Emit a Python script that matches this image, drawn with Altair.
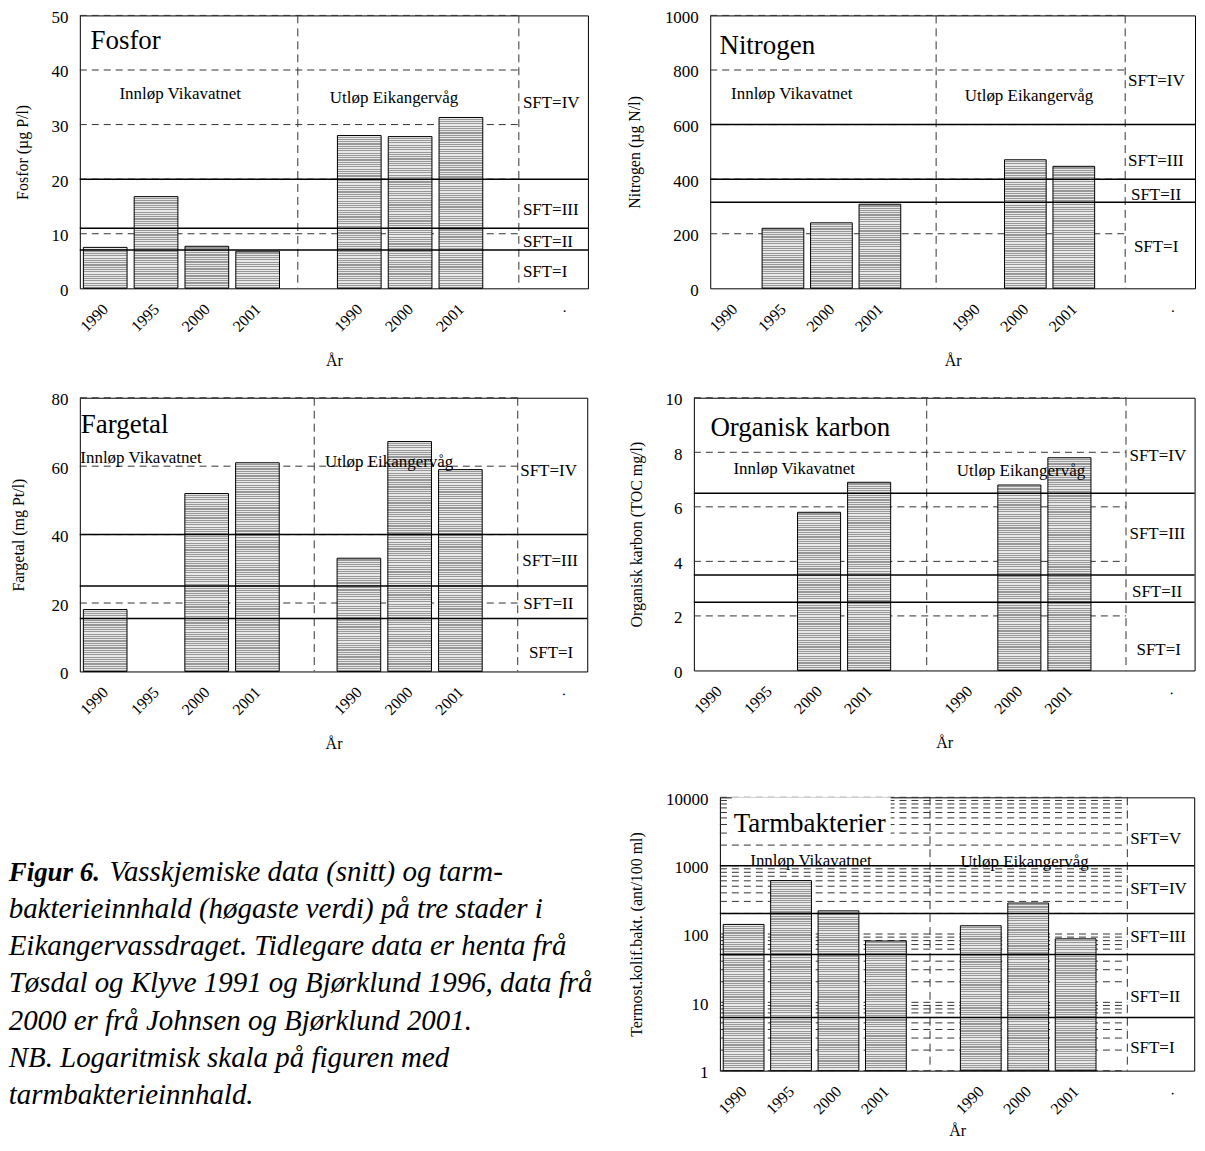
import math
import altair as alt
import pandas as pd

FONT = "Liberation Serif"

# ---------------- data ----------------
tick_labels = ["1990", "1995", "2000", "2001", "", "1990", "2000", "2001", "", "."]
inn_slots = [0, 1, 2, 3]      # Innløp Vikavatnet: 1990, 1995, 2000, 2001
ut_slots = [5, 6, 7]          # Utløp Eikangervåg: 1990, 2000, 2001

fosfor_inn = [7.5, 16.8, 7.7, 6.8]
fosfor_ut = [28.0, 27.8, 31.3]
nitrogen_inn = [None, 220, 240, 308]
nitrogen_ut = [None, 471, 447]
fargetal_inn = [18.1, None, 52.0, 61.0]
fargetal_ut = [33.1, 67.2, 59.0]
toc_inn = [None, None, 5.8, 6.9]
toc_ut = [None, 6.8, 7.8]
bakt_inn = [138, 605, 218, 79]
bakt_ut = [132, 284, 85]

fosfor_sft = [7, 11, 20]
nitrogen_sft = [315, 400, 600]
fargetal_sft = [15.5, 25, 40]
toc_sft = [2.5, 3.5, 6.5]
bakt_sft = [6, 50, 200, 1000]

fosfor_ticks = [0, 10, 20, 30, 40, 50]
nitrogen_ticks = [0, 200, 400, 600, 800, 1000]
fargetal_ticks = [0, 20, 40, 60, 80]
toc_ticks = [0, 2, 4, 6, 8, 10]
bakt_ticks = [1, 10, 100, 1000, 10000]
bakt_minor = [m * 10 ** e for e in range(4) for m in range(1, 10)] + [10000]

sft_names4 = ["SFT=IV", "SFT=III", "SFT=II", "SFT=I"]
sft_names5 = ["SFT=V", "SFT=IV", "SFT=III", "SFT=II", "SFT=I"]

caption_bold = "Figur 6."
caption_lines = [
    "Vasskjemiske data (snitt) og tarm-",
    "bakterieinnhald (høgaste verdi) på tre stader i",
    "Eikangervassdraget. Tidlegare data er henta frå",
    "Tøsdal og Klyve 1991 og Bjørklund 1996, data frå",
    "2000 er frå Johnsen og Bjørklund 2001.",
    "NB. Logaritmisk skala på figuren med",
    "tarmbakterieinnhald.",
]

DARK = "#979797"
LIGHT = "#e8e8e8"


def stripes(h_px, period=2.3):
    n = max(1, int(round(h_px / period)))
    stops = []
    for k in range(n):
        a = round(k / n, 5)
        b = round((k + 0.5) / n, 5)
        c = round((k + 1) / n, 5)
        stops += [{"offset": a, "color": LIGHT}, {"offset": b, "color": LIGHT},
                  {"offset": b, "color": DARK}, {"offset": c, "color": DARK}]
    return {"gradient": "linear", "x1": 0, "y1": 0, "x2": 0, "y2": 1, "stops": stops}


def panel(p):
    W, H = p["w"], p["h"]
    log = p.get("log", False)
    xscale = alt.Scale(domain=[0, 10], nice=False, zero=False)
    if log:
        yscale = alt.Scale(type="log", domain=p["ydom"], nice=False)
    else:
        yscale = alt.Scale(domain=p["ydom"], nice=False, zero=True)
    label_expr = "[" + ",".join("'%s'" % t for t in tick_labels) + "][floor(datum.value)]"
    xaxis = alt.Axis(values=[i + 0.5 for i in range(10)], labelExpr=label_expr,
                     labelAngle=315, labelAlign="right", labelBaseline="middle",
                     labelPadding=18, labelFont=FONT, labelFontSize=16, labelColor="black",
                     labelFlush=False, labelOverlap=False,
                     domain=False, ticks=False, tickSize=0, grid=False,
                     title="År", titleFont=FONT, titleFontSize=16, titleFontWeight="normal",
                     titleColor="black", titleX=W / 2, titleY=p.get("xtitle_y", 72),
                     titleAlign="center", titleBaseline="middle")
    yaxis = alt.Axis(values=p["ticks"], format="d", labelFont=FONT, labelFontSize=17,
                     labelColor="black", labelPadding=12, labelOffset=2, labelFlush=False,
                     labelOverlap=False, domain=False, ticks=False, tickSize=0, grid=False,
                     title=p["ytitle"], titleFont=FONT, titleFontSize=16,
                     titleFontWeight="normal", titleColor="black", titleX=p["ytitle_x"],
                     titleY=H / 2, titleAngle=270, titleAlign="center",
                     titleBaseline="middle")

    def X(f):
        return alt.X(f, type="quantitative", scale=xscale, axis=xaxis)

    def Y(f):
        return alt.Y(f, type="quantitative", scale=yscale, axis=yaxis)

    layers = []
    # dashed grid lines (stop at second dashed divider)
    gdf = pd.DataFrame({"g": p["grid"], "gx0": 0.0, "gx1": p["vlines"][1]})
    layers.append(alt.Chart(gdf).mark_rule(stroke="#333333", strokeWidth=1, strokeDash=[7, 5])
                  .encode(x=X("gx0"), x2="gx1", y=Y("g")))
    # white box behind panel title (only where grid is dense)
    if p.get("box"):
        bx = p["box"]
        bdf = pd.DataFrame({"bx0": [bx[0]], "bx1": [bx[1]], "by0": [bx[2]], "by1": [bx[3]]})
        layers.append(alt.Chart(bdf).mark_rect(fill="white")
                      .encode(x=X("bx0"), x2="bx1", y=Y("by0"), y2="by1"))
    # vertical dashed dividers
    vdf = pd.DataFrame({"vx": p["vlines"]})
    layers.append(alt.Chart(vdf).mark_rule(stroke="#333333", strokeWidth=1, strokeDash=[8, 5])
                  .encode(x=X("vx")))
    # bars
    base = p["ydom"][0]
    for slot, v in zip(inn_slots + ut_slots, p["inn"] + p["ut"]):
        if v is None:
            continue
        df = pd.DataFrame({"x0": [slot + 0.07], "x1": [slot + 0.93], "v": [v]})
        hpx = math.log10(v) / math.log10(p["ydom"][1]) * H if log else v / p["ydom"][1] * H
        enc = dict(x=X("x0"), x2="x1", y=Y("v"), y2=alt.datum(base))
        layers.append(alt.Chart(df).mark_bar(fill=stripes(hpx), stroke="black", strokeWidth=1)
                      .encode(**enc))
    # SFT class limits (solid)
    sdf = pd.DataFrame({"s": p["sft"]})
    layers.append(alt.Chart(sdf).mark_rule(stroke="black", strokeWidth=1.5).encode(y=Y("s")))
    # texts
    tdf = pd.DataFrame({"t": [p["title"]], "tx": [p["title_pos"][0]], "ty": [p["title_pos"][1]]})
    layers.append(alt.Chart(tdf).mark_text(font=FONT, fontSize=27, align="left",
                                           baseline="alphabetic", color="black")
                  .encode(x=X("tx"), y=Y("ty"), text="t:N"))
    rdf = pd.DataFrame({"t": ["Innløp Vikavatnet", "Utløp Eikangervåg"],
                        "tx": [p["inn_pos"][0], p["ut_pos"][0]],
                        "ty": [p["inn_pos"][1], p["ut_pos"][1]]})
    layers.append(alt.Chart(rdf).mark_text(font=FONT, fontSize=17, align="left",
                                           baseline="alphabetic", color="black")
                  .encode(x=X("tx"), y=Y("ty"), text="t:N"))
    ldf = pd.DataFrame({"t": p["sft_names"], "tx": [s[0] for s in p["sft_pos"]],
                        "ty": [s[1] for s in p["sft_pos"]]})
    layers.append(alt.Chart(ldf).mark_text(font=FONT, fontSize=17, align="left",
                                           baseline="alphabetic", color="black")
                  .encode(x=X("tx"), y=Y("ty"), text="t:N"))
    return alt.layer(*layers).properties(width=W, height=H)


def caption_view(width, height):
    cx, cy0, dy = -71.3, 83.7, 37.3
    layers = []
    cdf = pd.DataFrame({"t": [caption_bold]})
    layers.append(alt.Chart(cdf).mark_text(font=FONT, fontSize=27, fontStyle="italic",
                                           fontWeight="bold", align="left",
                                           baseline="alphabetic", color="black")
                  .encode(x=alt.value(cx), y=alt.value(cy0), text="t:N"))
    for i, line in enumerate(caption_lines):
        ldf2 = pd.DataFrame({"t": [line]})
        lx = cx + 101 if i == 0 else cx
        layers.append(alt.Chart(ldf2).mark_text(font=FONT, fontSize=29, fontStyle="italic",
                                                align="left", baseline="alphabetic",
                                                color="black")
                      .encode(x=alt.value(lx), y=alt.value(cy0 + i * dy), text="t:N"))
    return alt.layer(*layers).properties(width=width, height=height,
                                         view=alt.ViewBackground(strokeOpacity=0))


fosfor = panel(dict(title="Fosfor", ytitle="Fosfor (µg P/l)", inn=fosfor_inn, ut=fosfor_ut,
                    sft=fosfor_sft, grid=fosfor_ticks[1:], ticks=fosfor_ticks, ydom=[0, 50],
                    w=509.4, h=273.6, vlines=[4.29, 8.64], ytitle_x=-57.3,
                    title_pos=(0.21, 43.9), inn_pos=(0.78, 34.6), ut_pos=(4.92, 34.0),
                    sft_names=sft_names4,
                    sft_pos=[(8.72, 33.1), (8.72, 13.45), (8.72, 7.49), (8.72, 2.0)]))
nitrogen = panel(dict(title="Nitrogen", ytitle="Nitrogen (µg N/l)", inn=nitrogen_inn,
                      ut=nitrogen_ut, sft=nitrogen_sft, grid=nitrogen_ticks[1:],
                      ticks=nitrogen_ticks, ydom=[0, 1000], w=486, h=273.6,
                      vlines=[4.66, 8.56], ytitle_x=-76,
                      title_pos=(0.19, 858), inn_pos=(0.43, 694), ut_pos=(5.25, 686),
                      sft_names=sft_names4,
                      sft_pos=[(8.62, 743), (8.62, 448), (8.68, 324), (8.74, 131.6)]))
fargetal = panel(dict(title="Fargetal", ytitle="Fargetal (mg Pt/l)", inn=fargetal_inn,
                      ut=fargetal_ut, sft=fargetal_sft, grid=fargetal_ticks[1:],
                      ticks=fargetal_ticks, ydom=[0, 80], w=508.7, h=274.4,
                      vlines=[4.62, 8.63], ytitle_x=-61,
                      title_pos=(0.02, 69.8), inn_pos=(0.01, 61.0), ut_pos=(4.83, 59.9),
                      sft_names=sft_names4,
                      sft_pos=[(8.68, 57.1), (8.72, 30.9), (8.74, 18.3), (8.85, 3.9)]))
toc = panel(dict(title="Organisk karbon", ytitle="Organisk karbon (TOC mg/l)", inn=toc_inn,
                 ut=toc_ut, sft=toc_sft, grid=toc_ticks[1:], ticks=toc_ticks, ydom=[0, 10],
                 w=502, h=273.4, vlines=[4.65, 8.63], ytitle_x=-58,
                 title_pos=(0.33, 8.6), inn_pos=(0.79, 7.19), ut_pos=(5.25, 7.13),
                 sft_names=sft_names4,
                 sft_pos=[(8.70, 7.68), (8.70, 4.82), (8.75, 2.68), (8.84, 0.55)]))
tarm = panel(dict(title="Tarmbakterier", ytitle="Termost.kolif.bakt. (ant/100 ml)",
                  inn=bakt_inn, ut=bakt_ut, sft=bakt_sft, grid=bakt_minor, ticks=bakt_ticks,
                  ydom=[1, 10000], log=True, w=475.5, h=274, vlines=[4.43, 8.59],
                  ytitle_x=-83.5, box=(0.25, 3.6, 2300, 10000), xtitle_y=60,
                  title_pos=(0.29, 3083), inn_pos=(0.64, 984), ut_pos=(5.07, 951),
                  sft_names=sft_names5,
                  sft_pos=[(8.65, 2080), (8.65, 387), (8.65, 76.4), (8.65, 10.2), (8.65, 1.79)]))

row1 = alt.hconcat(fosfor, nitrogen, spacing=122, bounds="flush")
row2 = alt.hconcat(fargetal, toc, spacing=106.6, bounds="flush")
row3 = alt.hconcat(caption_view(500, 274), tarm, spacing=141.7, bounds="flush")
lower = alt.vconcat(row2, row3, spacing=37.6)
chart = (alt.vconcat(row1, lower, spacing=20.3)
         .properties(padding={"top": -2, "left": 0, "right": 0, "bottom": 0},
                     background="white")
         .configure_view(stroke="black", strokeWidth=1))

chart.save("out.html", embed_options={"renderer": "svg", "actions": False})
